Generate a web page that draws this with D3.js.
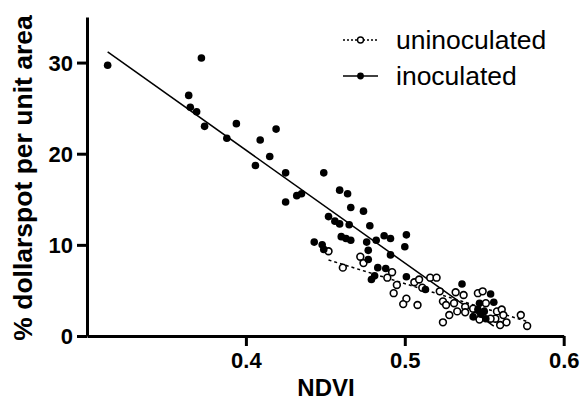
<!DOCTYPE html>
<html>
<head>
<meta charset="utf-8">
<script src="https://cdn.jsdelivr.net/npm/d3@7"></script>
<style>
  html, body { margin: 0; padding: 0; background: #fff; }
  svg { display: block; font-family: "Liberation Sans", Arial, sans-serif; }
</style>
</head>
<body>
<svg width="583" height="406"></svg>
<script>
// NDVI vs % dollarspot
const inocNdvi = [0.313, 0.372, 0.364, 0.365, 0.369, 0.374, 0.394, 0.388, 0.419, 0.409, 0.415, 0.406,
  0.425, 0.449, 0.425, 0.432, 0.435, 0.459, 0.464, 0.466, 0.474, 0.452, 0.456, 0.459, 0.465, 0.478,
  0.460, 0.463, 0.466, 0.476, 0.482, 0.487, 0.491, 0.501, 0.500, 0.443, 0.448, 0.449, 0.477, 0.477,
  0.491, 0.483, 0.488, 0.481, 0.479, 0.501, 0.513, 0.536, 0.554, 0.547, 0.556, 0.550, 0.546, 0.543,
  0.551, 0.548];
const inocSpot = [29.7, 30.5, 26.4, 25.1, 24.6, 23.0, 23.3, 21.7, 22.7, 21.5, 19.7, 18.7,
  17.9, 17.9, 14.7, 15.4, 15.6, 16.0, 15.6, 14.1, 13.7, 13.1, 12.6, 12.3, 12.2, 12.1,
  10.9, 10.7, 10.5, 10.3, 10.5, 11.0, 10.7, 11.1, 9.8, 10.3, 10.0, 9.5, 9.4, 8.4,
  8.9, 7.5, 7.4, 6.6, 6.2, 6.5, 5.1, 5.7, 4.6, 3.6, 3.7, 2.7, 2.9, 2.1,
  1.9, 2.4];

const uninocNdvi = [0.452, 0.472, 0.474, 0.461, 0.492, 0.489, 0.495, 0.493, 0.501, 0.499, 0.508,
  0.506, 0.509, 0.511, 0.516, 0.520, 0.522, 0.524, 0.526, 0.524, 0.528, 0.532, 0.537, 0.531,
  0.533, 0.538, 0.538, 0.546, 0.549, 0.543, 0.544, 0.551, 0.558, 0.561, 0.557, 0.560, 0.564,
  0.573, 0.577, 0.554, 0.562, 0.547];
const uninocSpot = [9.3, 8.7, 8.0, 7.5, 7.0, 6.4, 5.6, 4.7, 4.1, 3.5, 3.4,
  5.9, 6.2, 5.3, 6.4, 6.4, 4.9, 3.8, 3.4, 1.5, 2.3, 4.8, 4.5, 3.6,
  2.7, 3.2, 2.6, 4.7, 4.9, 3.0, 2.2, 3.6, 2.7, 2.9, 1.9, 1.2, 1.5,
  2.3, 1.1, 1.9, 2.3, 1.8];

// linear fits [uninoculated, inoculated]
const fitSlope = [-54.0, -123.9];
const fitIntercept = [32.75, 69.96];

const seriesNames = ["uninoculated", "inoculated"];
const xTicks = [0.4, 0.5, 0.6];
const yTicks = [0, 10, 20, 30];

const svg = d3.select("svg");

const x = d3.scaleLinear().domain([0.3, 0.6]).range([87, 563.7]);
const y = d3.scaleLinear().domain([0, 35]).range([336, 17]);

const series = [
  { name: seriesNames[0], xs: uninocNdvi, ys: uninocSpot, open: true, dash: "3,3" },
  { name: seriesNames[1], xs: inocNdvi, ys: inocSpot, open: false, dash: null }
];

// fit lines
series.forEach((s, i) => {
  const ext = d3.extent(s.xs);
  const pts = ext.map(v => [v, fitIntercept[i] + fitSlope[i] * v]);
  svg.append("path")
    .attr("d", d3.line().x(d => x(d[0])).y(d => y(d[1]))(pts))
    .attr("fill", "none")
    .attr("stroke", "#000")
    .attr("stroke-width", 1.5)
    .attr("stroke-dasharray", s.dash);
});

// points
series.forEach(s => {
  svg.append("g").selectAll("circle")
    .data(d3.zip(s.xs, s.ys))
    .join("circle")
    .attr("cx", d => x(d[0]))
    .attr("cy", d => y(d[1]))
    .attr("r", s.open ? 3.4 : 3.8)
    .attr("fill", s.open ? "#fff" : "#000")
    .attr("stroke", "#000")
    .attr("stroke-width", s.open ? 1.6 : 0);
});

// axes
const xAxis = svg.append("g")
  .attr("transform", "translate(0,336)")
  .call(d3.axisBottom(x).tickValues(xTicks).tickFormat(d3.format(".1f")).tickSize(10).tickSizeOuter(0).tickPadding(6));
const yAxis = svg.append("g")
  .attr("transform", "translate(87,0)")
  .call(d3.axisLeft(y).tickValues(yTicks).tickSize(10).tickSizeOuter(0).tickPadding(4));

[xAxis, yAxis].forEach(a => {
  a.select(".domain").attr("stroke-width", 3);
  a.selectAll(".tick line").attr("stroke-width", 3);
  a.selectAll(".tick text")
    .attr("font-family", "Liberation Sans, Arial, sans-serif")
    .attr("font-size", 22)
    .attr("font-weight", "bold")
    .attr("fill", "#000");
});
yAxis.selectAll(".tick text").attr("dy", "0.36em");

// axis titles
svg.append("text")
  .attr("x", 326)
  .attr("y", 396)
  .attr("text-anchor", "middle")
  .attr("font-size", 24)
  .attr("font-weight", "bold")
  .text("NDVI");

svg.append("text")
  .attr("transform", "translate(32,178) rotate(-90)")
  .attr("text-anchor", "middle")
  .attr("font-size", 26.5)
  .attr("font-weight", "bold")
  .text("% dollarspot per unit area");

// legend
const legend = svg.append("g");
series.forEach((s, i) => {
  const ly = 40 + i * 36;
  legend.append("line")
    .attr("x1", 343).attr("x2", 378)
    .attr("y1", ly).attr("y2", ly)
    .attr("stroke", "#000")
    .attr("stroke-width", 1.5)
    .attr("stroke-dasharray", s.open ? "2,2" : null);
  legend.append("circle")
    .attr("cx", 360.5).attr("cy", ly)
    .attr("r", s.open ? 3 : 3.4)
    .attr("fill", s.open ? "#fff" : "#000")
    .attr("stroke", "#000")
    .attr("stroke-width", s.open ? 1.4 : 0);
  legend.append("text")
    .attr("x", 396)
    .attr("y", ly + 9)
    .attr("font-size", 26.5)
    .text(s.name);
});
</script>
</body>
</html>
